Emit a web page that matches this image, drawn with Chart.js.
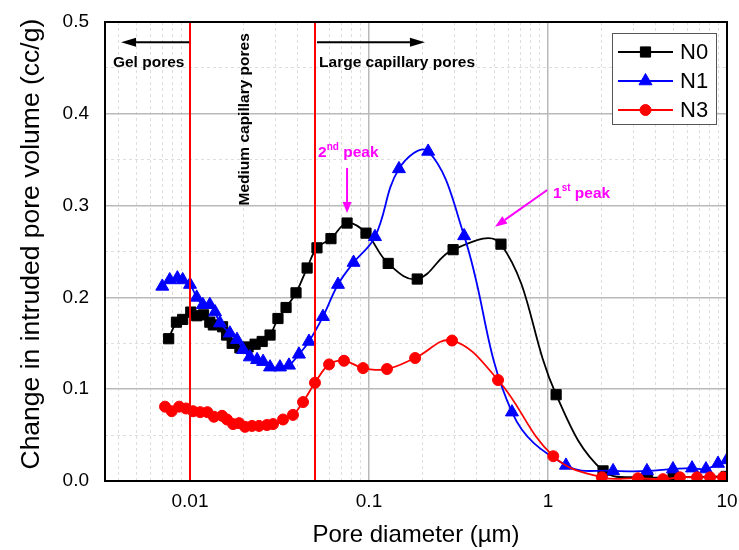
<!DOCTYPE html>
<html>
<head>
<meta charset="utf-8">
<script src="https://cdn.jsdelivr.net/npm/chart.js@4.4.1/dist/chart.umd.min.js"></script>
<style>
  html, body { margin: 0; padding: 0; background: #ffffff; }
  #c { display: block; }
</style>
</head>
<body>
<canvas id="c" width="739" height="550"></canvas>
<script>
// Pore diameter (µm) and change in intruded pore volume (cc/g) per mix
const n0Diameter = [0.0076, 0.0084, 0.0091, 0.0101, 0.0109, 0.0119, 0.0129, 0.0135, 0.0152, 0.0160,
  0.0172, 0.0190, 0.0211, 0.0231, 0.0253, 0.0280, 0.0310, 0.0344, 0.0391, 0.0451,
  0.0512, 0.0613, 0.0754, 0.0962, 0.128, 0.186, 0.295, 0.546, 1.11, 2.03, 3.6, 5.0, 9.9];
const n0Volume = [0.155, 0.173, 0.176, 0.184, 0.180, 0.181, 0.173, 0.170, 0.168, 0.159,
  0.150, 0.145, 0.146, 0.149, 0.152, 0.159, 0.177, 0.189, 0.205, 0.232,
  0.254, 0.264, 0.281, 0.270, 0.237, 0.220, 0.252, 0.258, 0.094, 0.011, 0.004, 0.004, 0.005];

const n1Diameter = [0.0070, 0.0077, 0.0085, 0.0091, 0.0100, 0.0109, 0.0118, 0.0129, 0.0138, 0.0147,
  0.0167, 0.0183, 0.0198, 0.0216, 0.0237, 0.0256, 0.0280, 0.0318, 0.0357, 0.0406,
  0.0462, 0.0553, 0.0671, 0.0820, 0.108, 0.147, 0.214, 0.340, 0.629, 1.26,
  2.31, 3.57, 4.99, 6.38, 7.63, 8.91, 10.0];
const n1Volume = [0.212, 0.219, 0.221, 0.219, 0.214, 0.200, 0.192, 0.192, 0.184, 0.172,
  0.161, 0.154, 0.143, 0.135, 0.132, 0.130, 0.124, 0.124, 0.126, 0.138,
  0.152, 0.179, 0.214, 0.238, 0.266, 0.340, 0.359, 0.267, 0.075, 0.017,
  0.011, 0.011, 0.013, 0.014, 0.013, 0.019, 0.023];

const n3Diameter = [0.00725, 0.0079, 0.0087, 0.0095, 0.0104, 0.0114, 0.0125, 0.0136, 0.0151, 0.0161,
  0.0174, 0.0188, 0.0203, 0.0222, 0.0243, 0.0269, 0.0291, 0.0331, 0.0376, 0.0428,
  0.0499, 0.0598, 0.0725, 0.0926, 0.126, 0.181, 0.291, 0.526, 1.07, 2.00,
  3.18, 4.39, 5.46, 6.80, 8.04, 9.50];
const n3Volume = [0.081, 0.076, 0.081, 0.079, 0.076, 0.075, 0.075, 0.070, 0.071, 0.067,
  0.062, 0.063, 0.059, 0.060, 0.060, 0.061, 0.062, 0.067, 0.072, 0.086,
  0.107, 0.127, 0.131, 0.123, 0.122, 0.134, 0.153, 0.110, 0.027, 0.004,
  0.003, 0.002, 0.004, 0.004, 0.004, 0.004];

const seriesLabels = ['N0', 'N1', 'N3'];
const xTickLabels = ['0.01', '0.1', '1', '10'];
const yTickLabels = ['0.0', '0.1', '0.2', '0.3', '0.4', '0.5'];
// Pore-class boundaries (µm): gel | medium capillary | large capillary
const poreBoundaries = [0.01, 0.05];

const FONT = '"Liberation Sans", Arial, Helvetica, sans-serif';
const MAGENTA = '#ff00ff';

function toPoints(xs, ys) { return xs.map((x, i) => ({ x: x, y: ys[i] })); }
function findLabel(list, v) { return list.find(l => Math.abs(parseFloat(l) - v) < 1e-9 * Math.max(1, v)); }
function isDecade(v) { return findLabel(xTickLabels, v) !== undefined; }
function isMajorY(v) { return findLabel(yTickLabels, v) !== undefined; }
function noOverhang(s) { s.paddingTop = 0; s.paddingBottom = 0; s.paddingLeft = 0; s.paddingRight = 0; }

function arrow(ctx, x1, y1, x2, y2, color, headLen, headHalf) {
  const ang = Math.atan2(y2 - y1, x2 - x1);
  const bx = x2 - Math.cos(ang) * headLen, by = y2 - Math.sin(ang) * headLen;
  ctx.save();
  ctx.strokeStyle = color; ctx.fillStyle = color; ctx.lineWidth = 2;
  ctx.beginPath(); ctx.moveTo(x1, y1); ctx.lineTo(bx, by); ctx.stroke();
  ctx.beginPath();
  ctx.moveTo(x2, y2);
  ctx.lineTo(bx + Math.sin(ang) * headHalf, by - Math.cos(ang) * headHalf);
  ctx.lineTo(bx - Math.sin(ang) * headHalf, by + Math.cos(ang) * headHalf);
  ctx.closePath(); ctx.fill();
  ctx.restore();
}

// Boundary lines, region labels, peak callouts, frame and legend
const decorations = {
  id: 'decorations',
  afterDatasetsDraw(chart) {
    const { ctx, chartArea: a, scales: { x, y } } = chart;
    const X = v => x.getPixelForValue(v), Y = v => y.getPixelForValue(v);

    ctx.save();
    ctx.beginPath(); ctx.rect(a.left, a.top, a.right - a.left, a.bottom - a.top); ctx.clip();
    ctx.strokeStyle = '#ff0000'; ctx.lineWidth = 2;
    poreBoundaries.forEach(b => {
      const px = Math.round(X(b));
      ctx.beginPath(); ctx.moveTo(px, a.top); ctx.lineTo(px, a.bottom); ctx.stroke();
    });
    ctx.restore();

    // region arrows and labels
    arrow(ctx, X(0.0099), Y(0.478), X(0.00412), Y(0.478), '#000', 15, 4.5);
    arrow(ctx, X(0.0512), Y(0.478), X(0.2054), Y(0.478), '#000', 15, 4.5);
    ctx.save();
    ctx.fillStyle = '#000';
    ctx.font = 'bold 15.5px ' + FONT;
    ctx.textBaseline = 'middle';
    ctx.textAlign = 'left';
    ctx.fillText('Gel pores', X(0.00371), Y(0.456));
    ctx.fillText('Large capillary pores', X(0.0526), Y(0.456));
    ctx.translate(X(0.0203), Y(0.394));
    ctx.rotate(-Math.PI / 2);
    ctx.textAlign = 'center';
    ctx.fillText('Medium capillary pores', 0, 0);
    ctx.restore();

    // peak callouts
    ctx.save();
    ctx.fillStyle = MAGENTA;
    ctx.textBaseline = 'alphabetic';
    ctx.textAlign = 'left';
    const sup = (px, py, a1, s, rest) => {
      ctx.font = 'bold 15.5px ' + FONT;
      ctx.fillText(a1, px, py);
      let w = ctx.measureText(a1).width;
      ctx.font = 'bold 10px ' + FONT;
      ctx.fillText(s, px + w, py - 7);
      w += ctx.measureText(s).width;
      ctx.font = 'bold 15.5px ' + FONT;
      ctx.fillText(rest, px + w, py);
    };
    sup(X(0.0519), Y(0.359) + 6, '2', 'nd', ' peak');
    sup(X(1.067), Y(0.315) + 6, '1', 'st', ' peak');
    ctx.restore();
    arrow(ctx, X(0.0754), Y(0.341), X(0.0754), Y(0.292), MAGENTA, 11, 4.5);
    arrow(ctx, X(0.99), Y(0.317), X(0.506), Y(0.277), MAGENTA, 12, 4.5);

    // frame
    ctx.save();
    ctx.strokeStyle = '#000'; ctx.lineWidth = 2;
    ctx.strokeRect(a.left, a.top, a.right - a.left, a.bottom - a.top);
    ctx.restore();

    // legend
    const lx = a.right - 115, ly = a.top + 11, lw = 104, lh = 91;
    ctx.save();
    ctx.fillStyle = '#fff';
    ctx.fillRect(lx, ly, lw, lh);
    ctx.strokeStyle = '#555'; ctx.lineWidth = 1;
    ctx.strokeRect(lx + 0.5, ly + 0.5, lw, lh);
    chart.data.datasets.forEach((ds, i) => {
      const ry = ly + 19 + i * 29;
      ctx.strokeStyle = ds.borderColor; ctx.lineWidth = 2;
      ctx.beginPath(); ctx.moveTo(lx + 6, ry); ctx.lineTo(lx + 61, ry); ctx.stroke();
      ctx.fillStyle = ds.pointBackgroundColor;
      ctx.strokeStyle = ds.borderColor;
      ctx.lineWidth = 1;
      Chart.helpers.drawPoint(ctx, {
        pointStyle: ds.pointStyle, radius: ds.pointRadius, borderWidth: 1, rotation: 0
      }, lx + 33.5, ry);
      ctx.fillStyle = '#000';
      ctx.font = '22px ' + FONT;
      ctx.textBaseline = 'middle';
      ctx.textAlign = 'left';
      ctx.fillText(ds.label, lx + 68, ry + 1);
    });
    ctx.restore();
  }
};

const baseDs = { showLine: true, borderWidth: 1.8, tension: 0.4, pointBorderWidth: 1, pointHoverRadius: 0 };

const chart = new Chart(document.getElementById('c'), {
  type: 'line',
  data: {
    datasets: [
      Object.assign({}, baseDs, { label: seriesLabels[0], data: toPoints(n0Diameter, n0Volume),
        borderColor: '#000000', backgroundColor: '#000000', pointBackgroundColor: '#000000',
        pointStyle: 'rect', pointRadius: 7.2, order: 2 }),
      Object.assign({}, baseDs, { label: seriesLabels[1], data: toPoints(n1Diameter, n1Volume),
        borderColor: '#0000ff', backgroundColor: '#0000ff', pointBackgroundColor: '#0000ff',
        pointStyle: 'triangle', pointRadius: 7.5, order: 1 }),
      Object.assign({}, baseDs, { label: seriesLabels[2], data: toPoints(n3Diameter, n3Volume),
        borderColor: '#ff0000', backgroundColor: '#ff0000', pointBackgroundColor: '#ff0000',
        pointStyle: 'circle', pointRadius: 5.5, order: 0 })
    ]
  },
  options: {
    responsive: false,
    animation: false,
    devicePixelRatio: 1,
    layout: { padding: { top: 22, right: 12, left: 0, bottom: 0 } },
    plugins: { legend: { display: false }, tooltip: { enabled: false } },
    events: [],
    scales: {
      x: {
        type: 'logarithmic',
        min: 0.00335,
        max: 10,
        afterFit(s) { s.height = 69; noOverhang(s); },
        afterBuildTicks(s) {
          const t = [];
          for (let e = -3; e <= 1; e++) {
            for (let m = 1; m <= 9; m++) {
              const v = parseFloat((m * Math.pow(10, e)).toPrecision(6));
              if (v >= s.min * 0.9999 && v <= s.max * 1.0001) t.push({ value: v });
            }
          }
          s.ticks = t;
        },
        ticks: {
          autoSkip: false, maxRotation: 0, minRotation: 0, padding: 9,
          color: '#000', font: { family: FONT, size: 19 },
          callback: v => findLabel(xTickLabels, v) || ''
        },
        grid: {
          drawTicks: false,
          color: c => (c.tick && isDecade(c.tick.value)) ? '#b9b9b9' : '#dedede',
          lineWidth: c => (c.tick && isDecade(c.tick.value)) ? 1.5 : 1
        },
        border: { display: false, dash: c => (c.tick && isDecade(c.tick.value)) ? [] : [3, 3] },
        title: { display: true, text: 'Pore diameter (µm)', color: '#000',
          font: { family: FONT, size: 24 }, padding: { top: 0, bottom: 0 } }
      },
      y: {
        type: 'linear',
        min: 0,
        max: 0.5,
        afterFit(s) { s.width = 105; noOverhang(s); },
        ticks: {
          stepSize: 0.05, padding: 16, color: '#000', font: { family: FONT, size: 19 },
          callback: v => findLabel(yTickLabels, v) || ''
        },
        grid: {
          drawTicks: false,
          color: c => (c.tick && isMajorY(c.tick.value)) ? '#b9b9b9' : '#dedede',
          lineWidth: c => (c.tick && isMajorY(c.tick.value)) ? 1.5 : 1
        },
        border: { display: false, dash: c => (c.tick && isMajorY(c.tick.value)) ? [] : [3, 3] },
        title: { display: true, text: '\u00a0\u00a0Change in intruded pore volume (cc/g)', color: '#000',
          font: { family: FONT, size: 26.5 }, padding: { top: 16, bottom: 0 } }
      }
    }
  },
  plugins: [decorations]
});
</script>
</body>
</html>
